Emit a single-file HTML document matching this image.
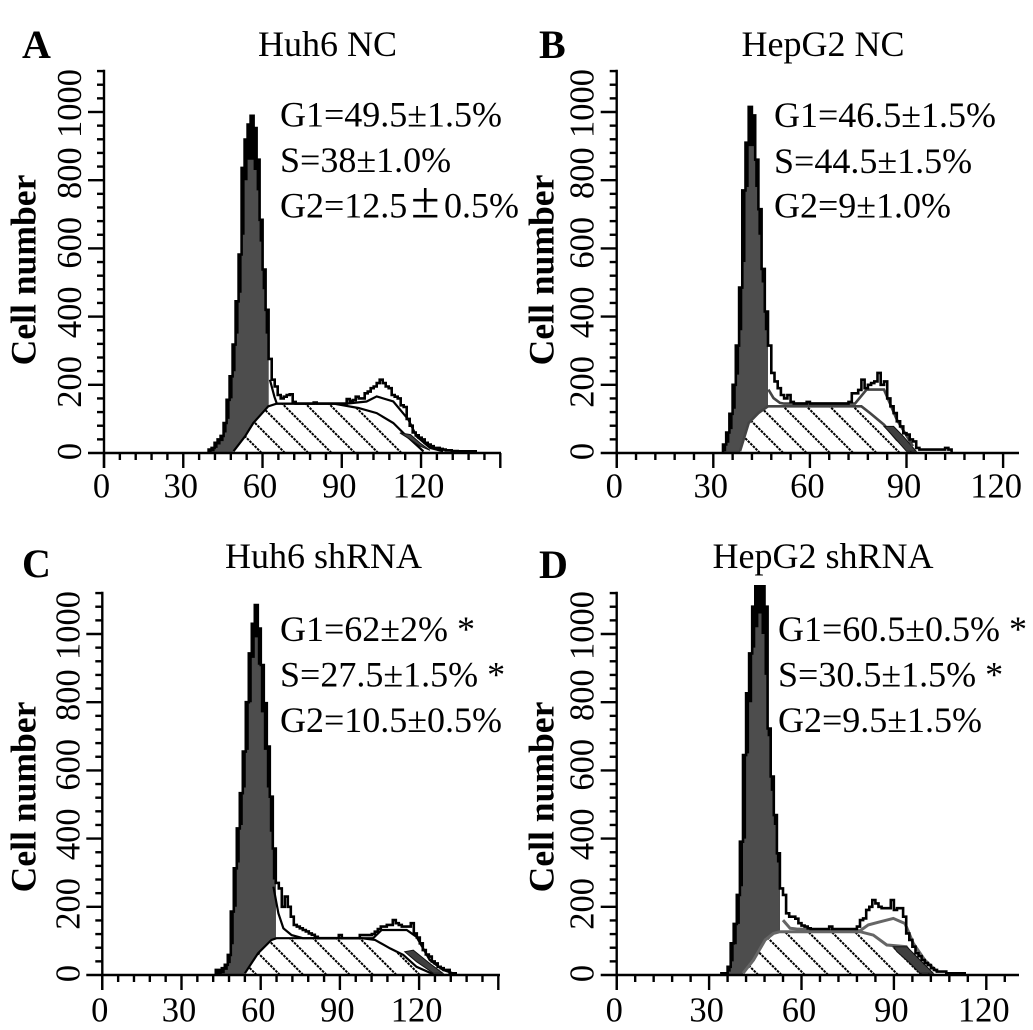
<!DOCTYPE html>
<html lang="en">
<head>
<meta charset="utf-8">
<title>Cell cycle histograms</title>
<style>
html,body{margin:0;padding:0;background:#fff;}
svg{display:block;}
text{font-family:"Liberation Serif",serif;fill:#000;}
.letter{font-size:40px;font-weight:bold;}
.title{font-size:36px;}
.note{font-size:36px;}
.ylab{font-size:35.6px;font-weight:bold;text-anchor:middle;}
.tick{font-size:34.5px;}
</style>
</head>
<body>
<svg id="fig" xmlns="http://www.w3.org/2000/svg" width="1033" height="1030" viewBox="0 0 1033 1030">
<rect x="0" y="0" width="1033" height="1030" fill="#fff"/>
<g id="plots"></g>

<text class="letter" x="22" y="58">A</text>
<text class="letter" x="539" y="58">B</text>
<text class="letter" x="22" y="577">C</text>
<text class="letter" x="539" y="578">D</text>

<text class="title" x="258" y="56">Huh6 NC</text>
<text class="title" x="741.5" y="56">HepG2 NC</text>
<text class="title" x="225" y="568">Huh6 shRNA</text>
<text class="title" x="712.5" y="568">HepG2 shRNA</text>

<text class="ylab" transform="translate(35.5,270) rotate(-90)">Cell number</text>
<text class="ylab" transform="translate(553.5,270) rotate(-90)">Cell number</text>
<text class="ylab" transform="translate(35.5,797) rotate(-90)">Cell number</text>
<text class="ylab" transform="translate(553.5,797) rotate(-90)">Cell number</text>

<text class="note" x="280" y="126.5">G1=49.5±1.5%</text>
<text class="note" x="280" y="172">S=38±1.0%</text>
<text class="note" x="280" y="217.5">G2=12.5</text>
<text x="411" y="217.5" font-size="52">±</text>
<text class="note" x="444" y="217.5">0.5%</text>

<text class="note" x="774" y="127">G1=46.5±1.5%</text>
<text class="note" x="774" y="173">S=44.5±1.5%</text>
<text class="note" x="774" y="217.5">G2=9±1.0%</text>

<text class="note" x="280" y="641">G1=62±2% *</text>
<text class="note" x="280" y="686.5">S=27.5±1.5% *</text>
<text class="note" x="280" y="732">G2=10.5±0.5%</text>

<text class="note" x="778" y="641">G1=60.5±0.5% *</text>
<text class="note" x="778" y="686.5">S=30.5±1.5% *</text>
<text class="note" x="778" y="732">G2=9.5±1.5%</text>
</svg>

<script>
const xTickLabels = [0, 30, 60, 90, 120];
const yTickLabels = [0, 200, 400, 600, 800, 1000];

/* Panel A: Huh6 NC */
const binStartA = 39.6;
const binWidthA = 1.136;
const countsA = [10,15,30,40,50,88,156,225,318,445,582,836,919,963,989,953,860,684,538,420,276,215,195,170,160,165,170,172,150,145,145,145,145,145,145,148,145,145,145,145,145,145,145,145,145,145,158,152,155,165,160,160,175,180,190,195,205,215,205,195,190,170,165,160,140,135,100,80,60,52,45,40,30,25,20,15,15,12,10,8,8,6,6,5,5,5,5,5,5];
const g1A = [0,5,15,25,35,60,100,160,240,350,470,640,800,860,860,830,770,620,480,350];
const sChannelsA = [49,53.4,56.5,62.2,65.4,86.8,96.3,103.2,109.5,113.3,120.9];
const sCountsA = [5,49,88,137,145,145,132,117,88,59,5];
const sumChannelsA = [62.8,64.5,65.4,91.8,99.4,103.2,109.5,115.2,118.3,123.4,128.4];
const sumCountsA = [215,165,145,145,151,166,151,98,49,15,5];
const wedgeChannelsA = [112,116,119.7,123.4,119.7,116];
const wedgeCountsA = [59,54,29,8,20,39];

/* Panel B: HepG2 NC */
const binStartB = 33;
const binWidthB = 1;
const countsB = [25,60,115,200,315,485,770,910,1015,990,860,715,540,415,315,235,210,190,170,160,170,150,145,145,145,145,150,145,145,145,145,145,145,145,145,145,145,145,145,150,175,175,185,215,190,200,205,210,235,200,210,160,137,117,93,78,58,54,40,34,15,10,10,10,10,10,10,10,10,15,10];
const g1B = [5,30,70,130,230,360,560,780,900,900,780,640,500,360];
const sChannelsB = [38.3,41,44,47,76,78.7,83,87,91.6];
const sCountsB = [5,88,117,137,137,117,83,39,5];
const sumChannelsB = [47.1,48.7,50.7,52,74,77.6,83,87,92];
const sumCountsB = [186,161,147,145,145,186,186,98,20];
const wedgeChannelsB = [83,86,89,93,90,85];
const wedgeCountsB = [78,78,49,5,5,58];

/* Panel C: Huh6 shRNA */
const binStartC = 43;
const binWidthC = 1.136;
const countsC = [15,15,20,30,59,186,313,430,533,655,800,943,1030,1085,1016,909,797,670,523,371,270,254,200,230,200,171,147,142,137,132,128,122,118,112,108,108,108,108,108,108,108,117,108,108,108,108,108,108,117,117,117,117,120,127,135,142,142,147,147,161,152,147,142,142,142,152,122,110,93,73,60,54,40,34,24,20,15,15,5,5];
const g1C = [0,0,5,15,35,90,200,330,440,550,660,800,930,990,910,770,660,550,420,280];
const sChannelsC = [54,59,64.1,66,98.2,103.3,109,114,119,125.4];
const sCountsC = [5,64,103,108,108,103,78,59,24,2];
const sumChannelsC = [64.8,66.7,68.6,71.7,76,102.6,105.8,115.3,119,124,129,134];
const sumCountsC = [259,181,137,117,108,108,132,132,112,44,15,2];
const wedgeChannelsC = [114.6,117.8,124,129,125.4,119];
const wedgeCountsC = [68,73,34,5,5,39];

/* Panel D: HepG2 shRNA */
const binStartD = 34;
const binWidthD = 1;
const countsD = [5,5,24,93,150,235,391,645,826,943,1080,1140,1140,1140,1080,723,582,469,357,254,235,181,171,171,165,152,145,142,137,135,135,135,135,135,135,142,135,135,135,135,135,135,135,135,142,161,166,191,200,220,210,200,196,196,196,220,191,196,196,171,122,103,83,64,55,44,35,29,20,15,10,10,10,5,5,5,5,5,5];
const g1D = [0,0,10,40,90,150,260,400,650,800,960,1020,1060,1000,880,700,540,440,330];
const sChannelsD = [41,44.4,48.2,50.9,53,79,83.3,87.7,94,98.5,101.7];
const sCountsD = [5,44,103,122,127,127,117,88,83,24,5];
const sumChannelsD = [54,56.3,58.4,79,81.7,85.5,89.8,93.6,96.3,100,104];
const sumCountsD = [161,137,135,130,147,156,166,151,93,44,10];
const wedgeChannelsD = [89.8,94.2,97.4,102.8,98.5,95.3,91];
const wedgeCountsD = [83,83,54,5,5,34,68];

const SVG_NS = 'http://www.w3.org/2000/svg';
const plots = document.getElementById('plots');

function make(tag, parent, attrs) {
  const el = document.createElementNS(SVG_NS, tag);
  for (const k in attrs) el.setAttribute(k, attrs[k]);
  parent.appendChild(el);
  return el;
}

function drawPanel(cfg) {
  const xScale = ch => cfg.x0 + ch * cfg.pxPerChannel;
  const yScale = n => cfg.y0 - n * 0.341;

  const stepPath = (start, w, vals) => {
    let d = 'M' + xScale(start).toFixed(1) + ' ' + yScale(0).toFixed(1);
    vals.forEach((v, i) => {
      d += 'L' + xScale(start + i * w).toFixed(1) + ' ' + yScale(v).toFixed(1);
      d += 'L' + xScale(start + (i + 1) * w).toFixed(1) + ' ' + yScale(v).toFixed(1);
    });
    d += 'L' + xScale(start + vals.length * w).toFixed(1) + ' ' + yScale(0).toFixed(1);
    return d;
  };
  const linePath = (chs, vals) => chs.map((c, i) =>
    (i ? 'L' : 'M') + xScale(c).toFixed(1) + ' ' + yScale(vals[i]).toFixed(1)).join('');
  const areaPath = (chs, vals) =>
    'M' + xScale(chs[0]).toFixed(1) + ' ' + yScale(0).toFixed(1) +
    linePath(chs, vals).replace(/^M/, 'L') +
    'L' + xScale(chs[chs.length - 1]).toFixed(1) + ' ' + yScale(0).toFixed(1) + 'Z';

  const group = make('g', plots, {});
  
  

  const under = make('path', group, { d: stepPath(cfg.start, cfg.width, cfg.counts.slice(0, cfg.g1.length)) + 'Z', fill: '#000' });
  
  

  const g1Area = make('path', group, { d: stepPath(cfg.start, cfg.width, cfg.g1) + 'Z', fill: '#4d4d4d' });
  
  

  const sArea = make('path', group, { d: areaPath(cfg.sCh, cfg.sCt), fill: '#fff' });
  
  

  const clip = make('clipPath', group, { id: 'clip-' + cfg.id });
  
  
  make('path', clip, { d: areaPath(cfg.sCh, cfg.sCt) });

  const hatchGroup = make('g', group, { 'clip-path': 'url(#clip-' + cfg.id + ')' });
  
  
  for (let k = 0; k < 9; k++) {
    const bx = cfg.hatchX + k * 23.3;
    const hatch = make('line', hatchGroup, {
      x1: bx - 170, y1: yScale(0) - 170, x2: bx, y2: yScale(0),
      stroke: '#000', 'stroke-width': 2, 'stroke-dasharray': '2.6 1'
    });
    
    
  }

  const sLine = make('path', group, { d: linePath(cfg.sCh, cfg.sCt), fill: 'none', stroke: cfg.modelColor, 'stroke-width': cfg.modelWidth });
  
  

  const wedge = make('path', group, { d: linePath(cfg.wCh, cfg.wCt) + 'Z', fill: '#3f3f3f', stroke: '#111', 'stroke-width': 1 });
  
  

  const sumLine = make('path', group, { d: linePath(cfg.sumCh, cfg.sumCt), fill: 'none', stroke: cfg.modelColor, 'stroke-width': cfg.modelWidth });
  
  

  const outline = make('path', group, { d: stepPath(cfg.start, cfg.width, cfg.counts), fill: 'none', stroke: '#000', 'stroke-width': 2.6 });
  
  

  const xAxis = make('line', group, { x1: cfg.x0 - 16, y1: cfg.y0, x2: cfg.right, y2: cfg.y0, stroke: '#000', 'stroke-width': 2.4 });
  
  

  const yAxis = make('line', group, { x1: cfg.x0, y1: yScale(1124), x2: cfg.x0, y2: cfg.y0 + 15, stroke: '#000', 'stroke-width': 2.4 });
  
  

  for (let c = 0; xScale(c) < cfg.right; c += 6) {
    const major = c % 30 === 0;
    const xt = make('line', group, { x1: xScale(c), y1: cfg.y0, x2: xScale(c), y2: cfg.y0 + (major ? 15 : 7), stroke: '#000', 'stroke-width': 2.4 });
    
    
  }
  for (let n = 40; n <= 1120; n += 40) {
    const major = n % 200 === 0;
    const yt = make('line', group, { x1: cfg.x0 - (major ? 16 : 7), y1: yScale(n), x2: cfg.x0, y2: yScale(n), stroke: '#000', 'stroke-width': 2.4 });
    
    
  }

  xTickLabels.forEach(v => {
    const nudge = (v === 120 && cfg.id === 'b') ? -7 : -2.5;
    const t = make('text', group, { class: 'tick', x: xScale(v) + nudge, y: cfg.y0 + cfg.labelDrop, 'text-anchor': 'middle' });
    
    
    t.textContent = v;
  });
  yTickLabels.forEach(v => {
    const py = yScale(v) - 1.5 - v * 0.007;
    const t = make('text', group, { class: 'tick', transform: 'translate(' + (cfg.x0 - 23) + ',' + py + ') rotate(-90)', 'text-anchor': 'middle' });
    
    
    t.textContent = v;
  });
}

drawPanel({ id: 'a', x0: 104, y0: 453, pxPerChannel: 2.642, right: 501, hatchX: 261.7, modelColor: '#000', modelWidth: 2.2, labelDrop: 44.5,
  start: binStartA, width: binWidthA, counts: countsA, g1: g1A, sCh: sChannelsA, sCt: sCountsA, sumCh: sumChannelsA, sumCt: sumCountsA, wCh: wedgeChannelsA, wCt: wedgeCountsA });
drawPanel({ id: 'b', x0: 616.7, y0: 453, pxPerChannel: 3.22, right: 1019, hatchX: 760, modelColor: '#444', modelWidth: 2.6, labelDrop: 44.5,
  start: binStartB, width: binWidthB, counts: countsB, g1: g1B, sCh: sChannelsB, sCt: sCountsB, sumCh: sumChannelsB, sumCt: sumCountsB, wCh: wedgeChannelsB, wCt: wedgeCountsB });
drawPanel({ id: 'c', x0: 102.3, y0: 975, pxPerChannel: 2.64, right: 500, hatchX: 256.7, modelColor: '#000', modelWidth: 2.2, labelDrop: 46.5,
  start: binStartC, width: binWidthC, counts: countsC, g1: g1C, sCh: sChannelsC, sCt: sCountsC, sumCh: sumChannelsC, sumCt: sumCountsC, wCh: wedgeChannelsC, wCt: wedgeCountsC });
drawPanel({ id: 'd', x0: 616.7, y0: 975, pxPerChannel: 3.08, right: 1019, hatchX: 758.3, modelColor: '#666', modelWidth: 3, labelDrop: 46.5,
  start: binStartD, width: binWidthD, counts: countsD, g1: g1D, sCh: sChannelsD, sCt: sCountsD, sumCh: sumChannelsD, sumCt: sumCountsD, wCh: wedgeChannelsD, wCt: wedgeCountsD });
</script>
</body>
</html>
